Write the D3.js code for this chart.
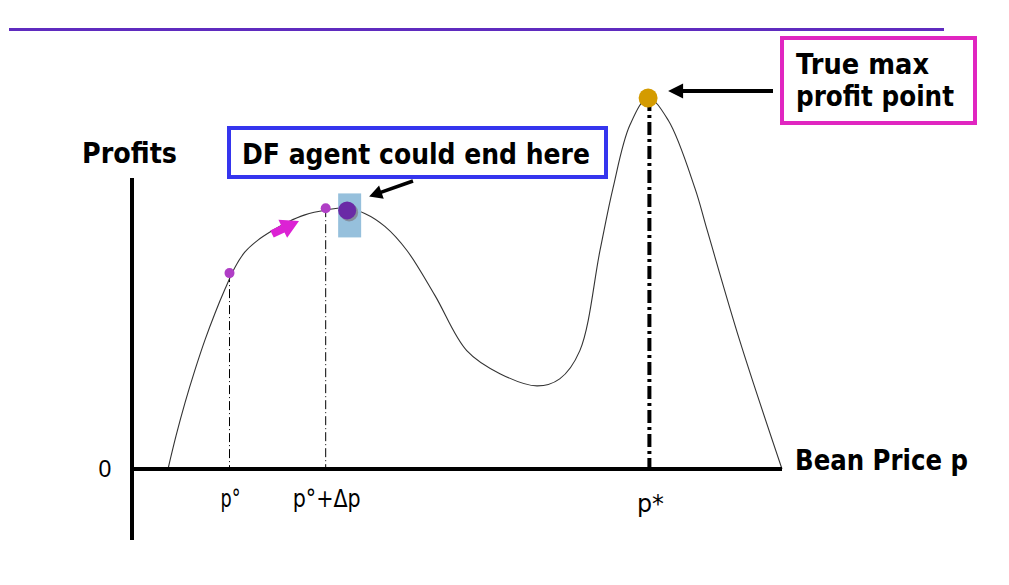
<!DOCTYPE html>
<html><head><meta charset="utf-8">
<script src="https://cdn.jsdelivr.net/npm/d3@7"></script>
<style>body{margin:0;background:#fff;overflow:hidden}</style>
</head><body><svg id="c" width="1009" height="585"></svg>
<script>
// ---- data (price units 0..100, profit units 0..100) ----
const curvePrice  = [5.54, 6.77, 8.15, 9.69, 11.23, 12.77, 14.31, 15.85, 17.38, 19.38, 21.54, 24.0, 26.6, 29.85, 32.77, 35.8, 38.9, 42.3, 46.6, 51.5, 56.6, 62.3, 65.8, 68.9, 72.0, 74.0, 76.6, 79.4, 82.5, 86.6, 88.5, 93.5, 100];
const curveProfit = [0, 8.9, 17.8, 26.7, 34.8, 42.0, 48.5, 54.4, 58.5, 61.7, 64.2, 66.6, 68.5, 69.8, 70.4, 68.9, 65.4, 58.9, 46.8, 31.9, 25.7, 22.4, 24.3, 31.9, 58.9, 75.7, 92.7, 100, 94, 75.7, 64.3, 34.6, 0];
const tickLabels = ["p°", "p°+Δp", "p*"];
const tickPrices = [15.0, 29.8, 79.6];
const stepPrices  = [15.0, 29.8];
const stepProfits = [52.8, 70.3];
const stuckPrice = 33.1, stuckProfit = 69.7;
const maxPrice = 79.4, maxProfit = 100;
const axisTitleY = "Profits";
const axisTitleX = "Bean Price p";
const zeroLabel = "0";
const noteDF = "DF agent could end here";
const noteMax = ["True max", "profit point"];

const svg = d3.select("#c");
const x = d3.scaleLinear().domain([0, 100]).range([132, 782]);
const y = d3.scaleLinear().domain([0, 100]).range([469, 98]);
const FONT = "'DejaVu Sans', sans-serif";

function fitText(g, str, x0, base, w, size, weight) {
  return g.append("text").attr("x", x0).attr("y", base).text(str)
    .attr("font-family", FONT).attr("font-size", size).attr("font-weight", weight || "bold")
    .attr("textLength", w).attr("lengthAdjust", "spacingAndGlyphs").attr("fill", "#000");
}

// top purple rule
svg.append("rect").attr("x", 9).attr("y", 28).attr("width", 935).attr("height", 3).attr("fill", "#5f2bbf");

// dash-dot guides
const guides = svg.append("g");
stepPrices.forEach((p, i) => {
  guides.append("line").attr("x1", x(p)).attr("x2", x(p)).attr("y1", y(stepProfits[i])).attr("y2", y(0))
    .attr("stroke", "#000").attr("stroke-width", 1).attr("stroke-dasharray", "9,3,1,3");
});
guides.append("line").attr("x1", x(tickPrices[2])).attr("x2", x(tickPrices[2])).attr("y1", y(maxProfit)).attr("y2", y(0))
  .attr("stroke", "#000").attr("stroke-width", 4).attr("stroke-dasharray", "13,4,3,4");

// curve
const line = d3.line().x(d => x(d[0])).y(d => y(d[1])).curve(d3.curveCatmullRom.alpha(0.5));
svg.append("path").datum(d3.zip(curvePrice, curveProfit)).attr("d", line)
  .attr("fill", "none").attr("stroke", "#333").attr("stroke-width", 1.1);

// axes
svg.append("line").attr("x1", x(0)).attr("x2", x(0)).attr("y1", 178).attr("y2", 540).attr("stroke", "#000").attr("stroke-width", 4);
svg.append("line").attr("x1", x(0)).attr("x2", x(100)).attr("y1", y(0)).attr("y2", y(0)).attr("stroke", "#000").attr("stroke-width", 4);

// tick labels
const tickW = [20, 68, 27];
const tickB = [507, 507, 512];
tickLabels.forEach((t, i) => {
  const w = tickW[i];
  svg.append("text").attr("x", x(tickPrices[i]) - (i === 1 ? 33 : w / 2 - 1)).attr("y", tickB[i]).text(t)
    .attr("font-family", FONT).attr("font-size", 24).attr("textLength", w).attr("lengthAdjust", "spacingAndGlyphs");
});
svg.append("text").attr("x", 105).attr("y", 477).attr("text-anchor", "middle").text(zeroLabel)
  .attr("font-family", "'Liberation Sans', Arial, sans-serif").attr("font-size", 23);

// axis titles
fitText(svg, axisTitleY, 82, 163, 95, 28);
fitText(svg, axisTitleX, 795, 470, 173, 28);

// stuck marker: blue rect + shadowed dot
svg.append("rect").attr("x", x(stuckPrice) - 9).attr("y", y(stuckProfit) - 17).attr("width", 23).attr("height", 44).attr("fill", "#96c0dc");
svg.append("circle").attr("cx", x(stuckPrice) + 2).attr("cy", y(stuckProfit) + 2).attr("r", 9).attr("fill", "#7f7f8f").attr("opacity", 0.8);
svg.append("circle").attr("cx", x(stuckPrice)).attr("cy", y(stuckProfit)).attr("r", 9).attr("fill", "#6a2aa6");

// step dots
stepPrices.forEach((p, i) => {
  svg.append("circle").attr("cx", x(p)).attr("cy", y(stepProfits[i])).attr("r", 5).attr("fill", "#b03ec6");
});

// block arrow helper
function blockArrow(x0, y0, x1, y1, shaftW, headL, headW, fill) {
  const dx = x1 - x0, dy = y1 - y0, L = Math.hypot(dx, dy), ux = dx / L, uy = dy / L, nx = -uy, ny = ux;
  const bx = x1 - ux * headL, by = y1 - uy * headL;
  const pts = [
    [x0 + nx * shaftW / 2, y0 + ny * shaftW / 2], [bx + nx * shaftW / 2, by + ny * shaftW / 2],
    [bx + nx * headW, by + ny * headW], [x1, y1], [bx - nx * headW, by - ny * headW],
    [bx - nx * shaftW / 2, by - ny * shaftW / 2], [x0 - nx * shaftW / 2, y0 - ny * shaftW / 2]];
  svg.append("polygon").attr("points", pts.map(p => p.join(",")).join(" ")).attr("fill", fill);
}
// magenta direction arrow
blockArrow(272, 234, 299, 221, 8, 18, 10, "#dc22d4");

// black pointer arrows
blockArrow(413, 181, x(stuckPrice) + 22, y(stuckProfit) - 14, 3.5, 13, 7, "#000");
blockArrow(773, 91, x(maxPrice) + 20, y(maxProfit) - 7, 4, 15, 7.5, "#000");

// max dot
svg.append("circle").attr("cx", x(maxPrice)).attr("cy", y(maxProfit)).attr("r", 9.5).attr("fill", "#d49b00");

// DF note box
svg.append("rect").attr("x", 229).attr("y", 128).attr("width", 377).attr("height", 49).attr("fill", "none").attr("stroke", "#3535ee").attr("stroke-width", 4);
fitText(svg, noteDF, 242, 164, 348, 28);

// max note box
svg.append("rect").attr("x", 782).attr("y", 38).attr("width", 193).attr("height", 85).attr("fill", "none").attr("stroke", "#e026c0").attr("stroke-width", 4);
fitText(svg, noteMax[0], 796, 74, 133, 29);
fitText(svg, noteMax[1], 796, 106, 158, 29);
</script></body></html>
